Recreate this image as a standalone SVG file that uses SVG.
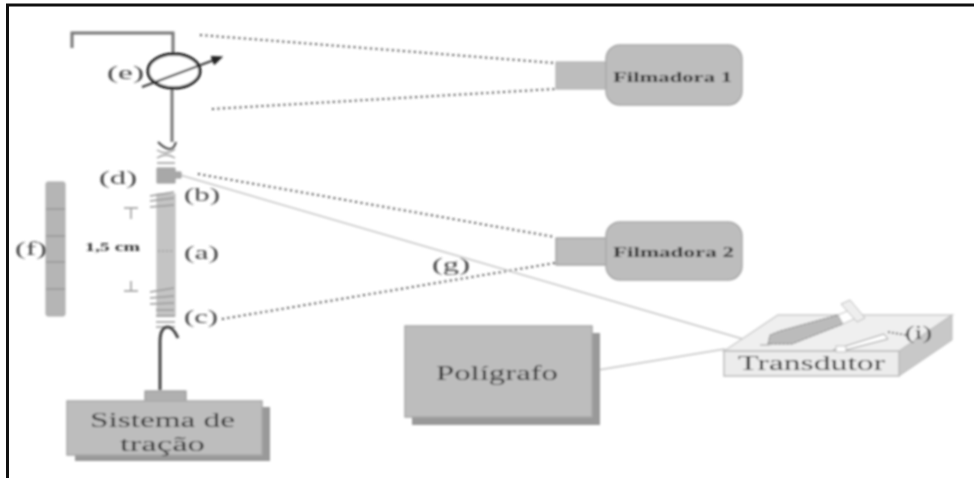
<svg xmlns="http://www.w3.org/2000/svg" width="974" height="478" viewBox="0 0 974 478">
<style>
text{font-family:"Liberation Serif",serif;fill:#333}
.box{fill:#bdbdbd;stroke:#a8a8a8;stroke-width:1.5}
.lab{font-size:19px;fill:#444}
.dot{fill:none;stroke:#444;stroke-width:2;stroke-dasharray:2 3.5}
.thin{fill:none;stroke:#c4c4c4;stroke-width:1.5}
.g{fill:none;stroke:#777;stroke-width:3}
.clamp{fill:none;stroke:#999;stroke-width:1.5}
</style>
<defs>
<filter id="b" x="-5%" y="-5%" width="110%" height="110%"><feGaussianBlur stdDeviation="0.8"/></filter>
<marker id="ah" markerWidth="12" markerHeight="10" refX="2" refY="5" orient="auto" markerUnits="userSpaceOnUse"><path d="M0 0L12 5L0 10Z" fill="#222"/></marker>
</defs>
<rect width="974" height="478" fill="#fff"/>
<path d="M7.5 478V5H974" fill="none" stroke="#111" stroke-width="3"/>
<g filter="url(#b)">
<g id="connectors">
<path class="dot" d="M200 35L555 63"/>
<path class="dot" d="M212 109L555 89"/>
<path class="dot" d="M198 174L555 237"/>
<path class="dot" d="M222 319L555 263"/>
<path class="thin" d="M180 175L743 339"/>
<path class="thin" d="M598 370L725 349"/>
</g>
<g id="suporte">
<path class="g" d="M72 48V33H173V55"/>
<path class="g" d="M172 88V142"/>
</g>
<g id="e">
<ellipse cx="174" cy="71" rx="26" ry="17" fill="#fff" stroke="#111" stroke-width="3"/>
<path d="M142 87L214 60" stroke="#333" stroke-width="2" fill="none" marker-end="url(#ah)"/>
<text class="lab" x="107" y="79" textLength="37" lengthAdjust="spacingAndGlyphs">(e)</text>
</g>
<g id="a">
<rect x="157" y="194" width="18" height="122" fill="#c4c4c4" stroke="#bbb"/>
<path d="M158 251H174" stroke="#888" stroke-dasharray="2 2"/>
<text class="lab" x="184" y="259" textLength="35" lengthAdjust="spacingAndGlyphs">(a)</text>
</g>
<g id="b-clamp">
<path class="clamp" d="M150 196L174 192M150 201L174 198M150 207L174 205"/>
<text class="lab" x="184" y="201" textLength="36" lengthAdjust="spacingAndGlyphs">(b)</text>
</g>
<g id="c-clamp">
<path class="clamp" d="M150 292L174 288M150 298L174 296M150 304L174 303M156 310H174M156 316H175M156 322H175M156 327H175"/>
<text class="lab" x="184" y="323" textLength="34" lengthAdjust="spacingAndGlyphs">(c)</text>
</g>
<g id="top-clamp">
<path d="M158 142Q172 156 176 142" fill="none" stroke="#444" stroke-width="2"/>
<path class="clamp" d="M157 150Q166 156 175 149M157 158Q166 152 175 158M157 163H175"/>
</g>
<g id="d">
<path d="M157 168H175V172H181V178H175V183H157Z" fill="#a8a8a8" stroke="#999"/>
<text class="lab" x="99" y="184" textLength="38" lengthAdjust="spacingAndGlyphs">(d)</text>
</g>
<g id="escala-1-5">
<path d="M124 208H138M131 208V219M124 291H138M131 281V291" stroke="#999" stroke-width="1.5" fill="none"/>
<text x="85" y="251" font-size="13" font-weight="bold" textLength="55" lengthAdjust="spacingAndGlyphs">1,5 cm</text>
</g>
<g id="f">
<rect x="46" y="182" width="19" height="134" rx="2" fill="#b5b5b5" stroke="#aaa"/>
<path d="M46 209H65M46 236H65M46 262H65M46 289H65" stroke="#888"/>
<text class="lab" x="15" y="255" textLength="32" lengthAdjust="spacingAndGlyphs">(f)</text>
</g>
<g id="gancho">
<path d="M160 390V342Q160 327 168 327Q173 327 178 338" fill="none" stroke="#444" stroke-width="3"/>
</g>
<g id="sistema-tracao">
<rect x="75" y="407" width="195" height="54" fill="#999"/>
<rect x="145" y="391" width="41" height="11" fill="#b0b0b0" stroke="#888"/>
<rect x="67" y="401" width="195" height="54" class="box"/>
<text x="90" y="427" font-size="20" textLength="145" lengthAdjust="spacingAndGlyphs">Sistema de</text>
<text x="120" y="451" font-size="20" textLength="85" lengthAdjust="spacingAndGlyphs">tração</text>
</g>
<g id="filmadora1">
<rect x="556" y="62" width="52" height="27" fill="#bdbdbd" stroke="#aaa"/>
<rect x="606" y="45" width="136" height="60" rx="14" class="box"/>
<text x="613" y="82" font-size="14" font-weight="bold" textLength="119" lengthAdjust="spacingAndGlyphs">Filmadora 1</text>
</g>
<g id="filmadora2">
<rect x="556" y="238" width="52" height="27" fill="#bdbdbd" stroke="#888"/>
<rect x="606" y="222" width="136" height="58" rx="14" class="box"/>
<text x="613" y="257" font-size="14" font-weight="bold" textLength="121" lengthAdjust="spacingAndGlyphs">Filmadora 2</text>
</g>
<g id="g-label"><text class="lab" x="432" y="271" textLength="38" lengthAdjust="spacingAndGlyphs">(g)</text></g>
<g id="poligrafo">
<rect x="412" y="333" width="188" height="92" fill="#999"/>
<rect x="405" y="326" width="187" height="91" class="box"/>
<text x="436" y="380" font-size="21" textLength="122" lengthAdjust="spacingAndGlyphs">Polígrafo</text>
</g>
<g id="transdutor">
<path d="M724 351L778 315H952L899 351Z" fill="#efefef" stroke="#ccc" stroke-width="1.5"/>
<path d="M899 351L952 315V340L899 376Z" fill="#c8c8c8" stroke="#bbb"/>
<rect x="724" y="351" width="175" height="25" fill="#ececec" stroke="#bbb" stroke-width="1.5"/>
<text x="738" y="370" font-size="20" textLength="147" lengthAdjust="spacingAndGlyphs">Transdutor</text>
<path d="M768 344L770 335L780 331L838 315L843 324L792 344Z" fill="#bbb" stroke="#777" stroke-dasharray="3 1"/>
<path d="M838 315L850 310L856 318L843 324Z" fill="#fff" stroke="#bbb"/>
<path d="M841 304L850 300L865 318L857 322Z" fill="#eee" stroke="#bbb"/>
<path d="M760 345H770M833 350L884 334L888 339L845 350" fill="#fff" stroke="#999"/>
<rect x="836" y="346" width="10" height="6" fill="#fff" stroke="#bbb"/>
<path d="M888 332L906 335" stroke="#666" stroke-width="2" stroke-dasharray="2 2"/>
<text class="lab" x="905" y="339" textLength="27" lengthAdjust="spacingAndGlyphs">(i)</text>
</g>
</g>
</svg>
